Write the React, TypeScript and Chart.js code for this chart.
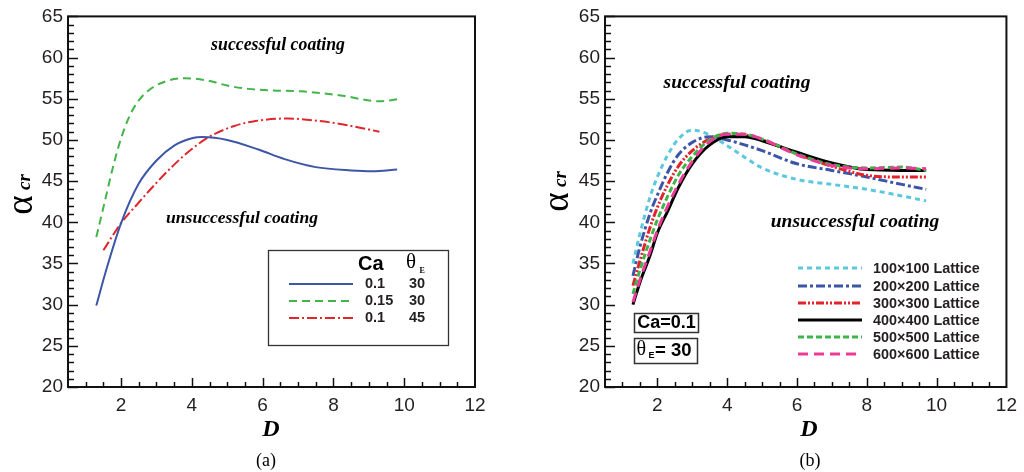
import React, { useEffect, useRef } from "react";
import { Chart, registerables } from "chart.js";
Chart.register(...registerables);

// ---------- data ----------
const X_TICKS = [2, 4, 6, 8, 10, 12];
const Y_TICKS = [20, 25, 30, 35, 40, 45, 50, 55, 60, 65];

// panel (a)
const aBlueX = [1.3, 1.6, 2.0, 2.5, 3.0, 3.5, 4.0, 4.3, 5.0, 5.9, 6.6, 7.5, 8.5, 9.1, 9.8];
const aBlueY = [29.9, 34.5, 39.9, 44.7, 47.5, 49.3, 50.2, 50.35, 50.0, 48.8, 47.7, 46.7, 46.3, 46.2, 46.4];
const aGreenX = [1.3, 1.5, 1.8, 2.0, 2.25, 2.5, 2.8, 3.25, 3.8, 4.45, 5.0, 5.6, 6.3, 7.1, 8.2, 9.3, 9.9];
const aGreenY = [38.2, 41.8, 47.2, 50.2, 53.0, 54.8, 56.1, 57.1, 57.5, 57.2, 56.6, 56.2, 56.0, 55.9, 55.4, 54.7, 55.0];
const aRedX = [1.5, 2.0, 2.5, 3.0, 3.5, 4.0, 4.5, 5.2, 5.8, 6.7, 7.6, 8.5, 9.3];
const aRedY = [36.6, 39.9, 42.4, 44.8, 47.0, 48.9, 50.4, 51.7, 52.3, 52.6, 52.3, 51.7, 51.0];
const aCa = ["0.1", "0.15", "0.1"];
const aTheta = ["30", "30", "45"];

// panel (b)
const bX = [1.3, 1.5, 1.8, 2.0, 2.3, 2.6, 3.0, 3.5, 4.0, 4.5, 5.0, 6.0, 7.0, 8.0, 9.0, 9.7];
const b100 = [35.0, 38.6, 43.2, 45.5, 48.2, 50.1, 51.2, 50.6, 49.3, 47.9, 46.6, 45.2, 44.6, 44.0, 43.2, 42.6];
const b200 = [33.5, 37.0, 41.2, 43.3, 46.1, 48.2, 49.7, 50.4, 50.0, 49.4, 48.7, 47.1, 46.3, 45.5, 44.6, 44.0];
const b300 = [32.3, 35.3, 39.5, 41.8, 44.6, 46.8, 48.7, 50.1, 50.7, 50.6, 50.0, 48.3, 46.8, 45.7, 45.5, 45.5];
const b400 = [30.0, 32.7, 36.1, 38.7, 41.4, 44.2, 47.1, 49.4, 50.4, 50.4, 49.9, 48.5, 47.2, 46.4, 46.3, 46.3];
const b500 = [31.3, 34.2, 38.0, 40.3, 43.2, 45.7, 48.0, 50.0, 50.8, 50.7, 50.1, 48.3, 47.0, 46.6, 46.7, 46.3];
const b600 = [30.3, 33.0, 36.6, 39.0, 42.0, 44.6, 47.4, 49.8, 50.7, 50.7, 50.1, 48.2, 46.9, 46.5, 46.6, 46.5];
const bLabels = ["100×100 Lattice", "200×200 Lattice", "300×300 Lattice", "400×400 Lattice", "500×500 Lattice", "600×600 Lattice"];

const TXT = "#231f20";
const SANS = "'Liberation Sans', Arial, sans-serif";
const SERIF = "'Liberation Serif', 'Times New Roman', serif";

type Series = { label: string; xs: number[]; ys: number[]; color: string; dash: number[]; width: number; order: number };

const seriesA: Series[] = [
  { label: "Ca=0.1, θE=30", xs: aBlueX, ys: aBlueY, color: "#3d56a6", dash: [], width: 2, order: 1 },
  { label: "Ca=0.15, θE=30", xs: aGreenX, ys: aGreenY, color: "#41b549", dash: [8, 5], width: 2, order: 2 },
  { label: "Ca=0.1, θE=45", xs: aRedX, ys: aRedY, color: "#e1262b", dash: [10, 3, 2, 3], width: 2, order: 3 },
];

const bColors = ["#5cc8de", "#3c55a7", "#e2232a", "#000000", "#3db54a", "#ec3a96"];
const bDashes = [[5, 4], [9, 3, 3, 3], [8, 2, 2, 2, 2, 2], [], [6, 3], [10, 6]];
const bOrders = [6, 5, 4, 3, 2, 1];
const seriesB: Series[] = [b100, b200, b300, b400, b500, b600].map((ys, i) => ({
  label: bLabels[i], xs: bX, ys, color: bColors[i], dash: bDashes[i], width: 3, order: bOrders[i],
}));

// ---------- drawing helpers ----------
function drawFrameAndTicks(chart: any) {
  const ctx = chart.ctx;
  const { left, right, top, bottom } = chart.chartArea;
  const xs = chart.scales.x;
  const ys = chart.scales.y;
  ctx.save();
  ctx.strokeStyle = "#111";
  ctx.lineWidth = 1.5;
  for (let v = 20; v <= 65; v += 1) {
    const y = Math.round(ys.getPixelForValue(v)) + 0.5;
    const len = v % 5 === 0 ? 10 : 6;
    ctx.beginPath();
    ctx.moveTo(left, y);
    ctx.lineTo(left + len, y);
    ctx.stroke();
  }
  for (let v = 1; v < 12; v += 0.5) {
    const x = Math.round(xs.getPixelForValue(v)) + 0.5;
    const len = v % 2 === 0 ? 9 : 5;
    ctx.beginPath();
    ctx.moveTo(x, bottom);
    ctx.lineTo(x, bottom - len);
    ctx.stroke();
  }
  ctx.lineWidth = 2;
  ctx.strokeStyle = "#111";
  ctx.strokeRect(left, top, right - left, bottom - top);
  ctx.restore();
}

function text(ctx: any, s: string, x: number, y: number, font: string, align = "center", color = TXT) {
  ctx.font = font;
  ctx.fillStyle = color;
  ctx.textAlign = align;
  ctx.textBaseline = "middle";
  ctx.fillText(s, x, y);
}

function sampleLine(ctx: any, x1: number, x2: number, y: number, s: Series) {
  ctx.save();
  ctx.strokeStyle = s.color;
  ctx.lineWidth = s.width;
  ctx.setLineDash(s.dash);
  ctx.beginPath();
  ctx.moveTo(x1, y);
  ctx.lineTo(x2, y);
  ctx.stroke();
  ctx.restore();
}

function drawYLabel(ctx: any, cx: number, cy: number) {
  ctx.save();
  ctx.translate(cx, cy);
  ctx.rotate(-Math.PI / 2);
  text(ctx, "α", 0, 0, `37px ${SERIF}`, "center", "#000");
  text(ctx, "cr", 23, 3, `italic bold 19px ${SERIF}`, "center", "#000");
  ctx.restore();
}

function makeDeco(panel: "a" | "b", off: number) {
  return {
    id: "deco" + panel,
    afterDraw(chart: any) {
      const ctx = chart.ctx;
      drawFrameAndTicks(chart);
      ctx.save();
      if (panel === "a") {
        text(ctx, "successful coating", 278 - off, 45, `italic bold 17.8px ${SERIF}`, "center", "#000");
        text(ctx, "unsuccessful coating", 242 - off, 218, `italic bold 17.6px ${SERIF}`, "center", "#000");
        // legend box
        ctx.strokeStyle = "#333";
        ctx.lineWidth = 1.3;
        ctx.strokeRect(268.5, 250.5, 180, 95);
        text(ctx, "Ca", 358, 264, `bold 20px ${SANS}`, "left", "#000");
        text(ctx, "θ", 406, 262, `21px ${SERIF}`, "left", "#000");
        text(ctx, "E", 419.5, 271, `bold 8px ${SERIF}`, "left", "#000");
        const ly = [284, 301, 318];
        seriesA.forEach((s, i) => {
          sampleLine(ctx, 289, 353, ly[i], s);
          text(ctx, aCa[i], 365, ly[i], `bold 14.5px ${SANS}`, "left");
          text(ctx, aTheta[i], 409, ly[i], `bold 14.5px ${SANS}`, "left");
        });
        drawYLabel(ctx, 22.5, 205);
        text(ctx, "D", 271, 430, `italic bold 24px ${SERIF}`, "center", "#000");
        text(ctx, "(a)", 266, 461, `18px ${SERIF}`, "center", "#000");
      } else {
        const o = off;
        text(ctx, "successful coating", 737 - o, 83, `italic bold 19.5px ${SERIF}`, "center", "#000");
        text(ctx, "unsuccessful coating", 855 - o, 222, `italic bold 19.5px ${SERIF}`, "center", "#000");
        const ly = [268, 286, 303, 320, 337, 354];
        seriesB.forEach((s, i) => {
          sampleLine(ctx, 798 - o, 862 - o, ly[i], s);
          text(ctx, bLabels[i], 873 - o, ly[i] + 1, `bold 14.4px ${SANS}`, "left");
        });
        ctx.strokeStyle = "#333";
        ctx.lineWidth = 1.5;
        ctx.strokeRect(634.5 - o, 313.5, 64, 19);
        ctx.strokeRect(634.5 - o, 338.5, 63, 25);
        text(ctx, "Ca=0.1", 666.5 - o, 323.5, `bold 18px ${SANS}`, "center", "#000");
        text(ctx, "θ", 636.5 - o, 350, `20px ${SERIF}`, "left", "#000");
        text(ctx, "E", 648.5 - o, 356, `bold 9px ${SANS}`, "left", "#000");
        text(ctx, "= 30", 655 - o, 351, `bold 18.5px ${SANS}`, "left", "#000");
        drawYLabel(ctx, 558.5 - o, 202);
        text(ctx, "D", 809 - o, 430, `italic bold 24px ${SERIF}`, "center", "#000");
        text(ctx, "(b)", 810 - o, 461, `18px ${SERIF}`, "center", "#000");
      }
      ctx.restore();
    },
  };
}

function buildChart(canvas: HTMLCanvasElement, series: Series[], panel: "a" | "b") {
  const off = panel === "a" ? 0 : 512;
  const pad = panel === "a"
    ? { left: 0, right: 37, top: 16, bottom: 35 }
    : { left: 25, right: 10, top: 15, bottom: 35 };
  const font = { family: SANS, size: 19 };
  return new Chart(canvas, {
    type: "line",
    data: {
      datasets: series.map((s) => ({
        label: s.label,
        data: s.xs.map((x, i) => ({ x, y: s.ys[i] })),
        borderColor: s.color,
        borderDash: s.dash,
        borderWidth: s.width,
        pointRadius: 0,
        fill: false,
        cubicInterpolationMode: "monotone",
        order: s.order,
      })),
    },
    options: {
      responsive: false,
      animation: false,
      devicePixelRatio: 1,
      layout: { padding: pad },
      plugins: { legend: { display: false }, tooltip: { enabled: false } },
      scales: {
        x: {
          type: "linear",
          min: 0.5,
          max: 12,
          grid: { display: false, drawTicks: false },
          border: { display: false },
          ticks: { font, color: TXT, padding: 7, maxRotation: 0 },
          afterBuildTicks: (s: any) => { s.ticks = X_TICKS.map((v) => ({ value: v })); },
          afterFit: (s: any) => { s.height = 50; },
        },
        y: {
          type: "linear",
          min: 20,
          max: 65,
          grid: { display: false, drawTicks: false },
          border: { display: false },
          ticks: { font, color: TXT, padding: 5 },
          afterBuildTicks: (s: any) => { s.ticks = Y_TICKS.map((v) => ({ value: v })); },
          afterFit: (s: any) => { s.width = 68; },
        },
      },
    } as any,
    plugins: [makeDeco(panel, off)],
  });
}

function Panel({ series, panel, left }: { series: Series[]; panel: "a" | "b"; left: number }) {
  const ref = useRef<HTMLCanvasElement>(null);
  useEffect(() => {
    if (!ref.current) return;
    const c = buildChart(ref.current, series, panel);
    return () => c.destroy();
  }, []);
  return (
    <canvas
      ref={ref}
      width={512}
      height={472}
      style={{ position: "absolute", left, top: 0, width: 512, height: 472 }}
    />
  );
}

export default function App() {
  return (
    <div style={{ position: "fixed", left: 0, top: 0, width: 1024, height: 472, background: "#fff", overflow: "hidden" }}>
      <Panel series={seriesA} panel="a" left={0} />
      <Panel series={seriesB} panel="b" left={512} />
    </div>
  );
}
